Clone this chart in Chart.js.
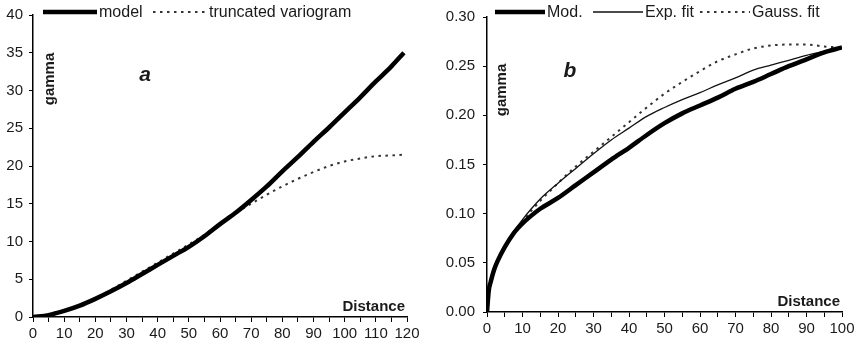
<!DOCTYPE html>
<html>
<head>
<meta charset="utf-8">
<script src="https://cdn.jsdelivr.net/npm/chart.js@4"></script>
<style>
  body { margin: 0; background: #fff; }
  #wrap { position: relative; width: 860px; height: 350px; }
  .box { position: absolute; top: 0; width: 430px; height: 350px; }
</style>
</head>
<body>
<div id="wrap">
  <div class="box" style="left:0"><canvas id="chartA" width="430" height="350"></canvas></div>
  <div class="box" style="left:430px"><canvas id="chartB" width="430" height="350"></canvas></div>
</div>
<script>
// panel a
const distA = [0, 5, 10, 15, 20, 25, 30, 35, 40, 45, 50, 55, 60, 65, 70, 75, 80, 85, 90, 95, 100, 105, 110, 115, 119];
const modelA = [0, 0.25, 0.8, 1.5, 2.4, 3.4, 4.5, 5.7, 6.9, 8.1, 9.3, 10.7, 12.3, 13.8, 15.5, 17.3, 19.3, 21.2, 23.2, 25.1, 27.1, 29.1, 31.2, 33.2, 35.0];
const truncA = [0, 0.25, 0.85, 1.6, 2.5, 3.6, 4.8, 6.0, 7.2, 8.4, 9.6, 10.9, 12.4, 13.8, 15.0, 16.2, 17.3, 18.3, 19.2, 20.0, 20.6, 21.0, 21.3, 21.4, 21.5];

// panel b
const distB = [0, 0.5, 1, 2, 3, 5, 7.5, 10, 12.5, 15, 20, 25, 30, 35, 40, 45, 50, 55, 60, 65, 70, 75, 80, 85, 90, 95, 100];
const modelB = [0, 0.022, 0.030, 0.043, 0.052, 0.066, 0.080, 0.090, 0.098, 0.105, 0.116, 0.129, 0.142, 0.155, 0.167, 0.180, 0.192, 0.202, 0.210, 0.218, 0.227, 0.234, 0.242, 0.250, 0.257, 0.264, 0.269];
const expB = [0, 0.022, 0.030, 0.043, 0.052, 0.066, 0.082, 0.094, 0.105, 0.115, 0.131, 0.146, 0.161, 0.175, 0.187, 0.199, 0.208, 0.216, 0.223, 0.231, 0.238, 0.246, 0.251, 0.256, 0.261, 0.265, 0.269];
const gaussB = [0, 0.022, 0.030, 0.043, 0.052, 0.066, 0.081, 0.092, 0.103, 0.113, 0.131, 0.148, 0.163, 0.178, 0.193, 0.208, 0.222, 0.234, 0.245, 0.255, 0.262, 0.268, 0.271, 0.272, 0.272, 0.270, 0.269];

const FONT = '"Liberation Sans", Arial, sans-serif';
const TXT = '#1a1a1a';

const pts = (xs, ys) => xs.map((x, i) => ({ x: x, y: ys[i] }));

// legend, panel letter and axis titles drawn on the canvas
const annot = {
  id: 'annot',
  afterDraw(chart, args, o) {
    const ctx = chart.ctx;
    ctx.save();
    ctx.fillStyle = TXT;
    ctx.textBaseline = 'middle';
    ctx.font = '16px ' + FONT;
    o.legend.forEach(it => {
      const ds = chart.data.datasets[it.ds];
      ctx.beginPath();
      ctx.strokeStyle = ds.borderColor;
      ctx.lineWidth = ds.borderWidth;
      ctx.setLineDash(ds.borderDash || []);
      ctx.moveTo(it.x1, o.legendY);
      ctx.lineTo(it.x2, o.legendY);
      ctx.stroke();
      ctx.setLineDash([]);
      ctx.textAlign = 'left';
      ctx.fillText(ds.label, it.x2 + 2, o.legendY + 1);
    });

    ctx.font = 'bold italic 21px ' + FONT;
    ctx.textAlign = 'center';
    ctx.fillText(o.letter, o.letterX, o.letterY);

    ctx.font = 'bold 15px ' + FONT;
    ctx.textBaseline = 'alphabetic';
    ctx.textAlign = 'right';
    ctx.fillText('Distance', chart.chartArea.right - 2, o.distY);

    ctx.translate(o.gammaX, o.gammaY);
    ctx.rotate(-Math.PI / 2);
    ctx.textAlign = 'center';
    ctx.textBaseline = 'middle';
    ctx.fillText('gamma', 0, 0);
    ctx.restore();
  }
};

function makeChart(id, datasets, xMax, yMax, yStep, yFmt, axisW, axisH, pad, yPad, ann) {
  return new Chart(document.getElementById(id), {
    type: 'line',
    data: { datasets: datasets },
    options: {
      responsive: false,
      animation: false,
      devicePixelRatio: 1,
      layout: { padding: pad },
      plugins: { legend: { display: false }, tooltip: { enabled: false }, annot: ann },
      elements: { point: { radius: 0 }, line: { cubicInterpolationMode: 'monotone' } },
      scales: {
        x: {
          type: 'linear', min: 0, max: xMax,
          afterFit: s => { s.height = axisH; },
          grid: { drawOnChartArea: false, drawTicks: true, tickLength: 5, color: '#000' },
          border: { color: '#000', width: 1.5 },
          ticks: {
            stepSize: 5, autoSkip: false, maxRotation: 0, padding: 3,
            color: TXT, font: { family: FONT, size: 15 },
            callback: v => (v % 10 === 0 ? String(v) : '')
          }
        },
        y: {
          min: 0, max: yMax,
          afterFit: s => { s.width = axisW; },
          grid: { drawOnChartArea: false, drawTicks: true, tickLength: 4, color: '#000' },
          border: { color: '#000', width: 1.5 },
          ticks: {
            stepSize: yStep, padding: yPad,
            color: TXT, font: { family: FONT, size: 15 },
            callback: yFmt
          }
        }
      }
    },
    plugins: [annot]
  });
}

makeChart('chartA', [
  { label: 'model', data: pts(distA, modelA), borderColor: '#000', borderWidth: 4.5 },
  { label: 'truncated variogram', data: pts(distA, truncA), borderColor: '#333', borderWidth: 2, borderDash: [2.5, 4.5] }
], 120, 40, 5, v => String(v), 33, 33, { left: 0, right: 23, top: 12, bottom: 0 }, 6, {
  legendY: 12,
  legend: [{ ds: 0, x1: 43, x2: 97 }, { ds: 1, x1: 153, x2: 207 }],
  letter: 'a', letterX: 145, letterY: 75,
  gammaX: 50, gammaY: 79,
  distY: 311
});

makeChart('chartB', [
  { label: 'Mod.', data: pts(distB, modelB), borderColor: '#000', borderWidth: 4.5 },
  { label: 'Exp. fit', data: pts(distB, expB), borderColor: '#111', borderWidth: 1.3 },
  { label: 'Gauss. fit', data: pts(distB, gaussB), borderColor: '#333', borderWidth: 2, borderDash: [2.5, 4.5] }
], 100, 0.30, 0.05, v => v.toFixed(2), 57, 38, { left: 0, right: 18, top: 12, bottom: 0 }, 8, {
  legendY: 12,
  legend: [{ ds: 0, x1: 65, x2: 115 }, { ds: 1, x1: 163, x2: 213 }, { ds: 2, x1: 270, x2: 320 }],
  letter: 'b', letterX: 140, letterY: 71,
  gammaX: 72, gammaY: 90,
  distY: 306
});
</script>
</body>
</html>
